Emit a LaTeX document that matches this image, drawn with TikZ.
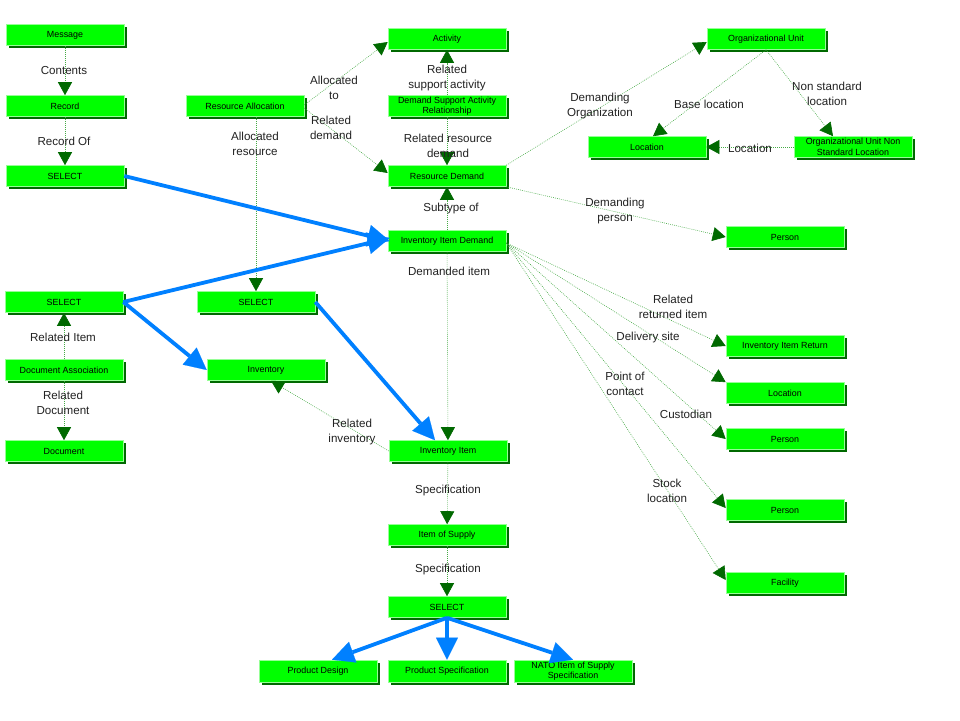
\documentclass[tikz,border=0pt]{standalone}
\usepackage{fontspec}
\setmainfont{Liberation Sans}
\usetikzlibrary{arrows.meta,shadows,calc}
\definecolor{boxgreen}{RGB}{0,255,0}
\definecolor{shadowgreen}{RGB}{0,105,0}
\definecolor{rimgreen}{RGB}{150,255,150}
\definecolor{linegreen}{RGB}{70,170,70}
\definecolor{tipgreen}{RGB}{0,105,0}
\definecolor{flowblue}{RGB}{0,128,255}
\definecolor{lbltext}{RGB}{34,34,34}
\tikzset{
  box/.style={draw=rimgreen, line width=0.6pt, fill=boxgreen, minimum width=118pt, minimum height=21pt,
    inner sep=1pt, align=center, font=\fontsize{8.9}{10.5}\selectfont, text=black,
    drop shadow={shadow xshift=2.5pt, shadow yshift=-2.5pt, fill=shadowgreen, opacity=1}},
  conn/.style={draw=linegreen, line width=0.6pt, dash pattern=on 0.8pt off 1.2pt,
    -{Triangle[length=13pt,width=14pt,color=tipgreen]}},
  flow/.style={draw=flowblue, line width=3.8pt, -{Triangle[length=22pt,width=22pt,line width=0.1pt]}},
  lbl/.style={font=\fontsize{11.6}{14.5}\selectfont, text=lbltext, align=center, inner sep=0pt}
}
\begin{document}
\begin{tikzpicture}[x=1pt,y=-1pt]
\useasboundingbox[fill=white] (0,0) rectangle (960,720);
% boxes
\node[box] (msg) at (65,35) {Message};
\node[box] (rec) at (65,106) {Record};
\node[box] (sel1) at (65,176) {SELECT};
\node[box] (ra) at (245,106) {Resource Allocation};
\node[box] (act) at (447,39) {Activity};
\node[box] (dsar) at (447,106) {Demand Support Activity\\Relationship};
\node[box] (rd) at (447,176) {Resource Demand};
\node[box] (iid) at (447,241) {Inventory Item Demand};
\node[box] (ou) at (766,39) {Organizational Unit};
\node[box] (loc1) at (647,147) {Location};
\node[box] (ounsl) at (853,147) {Organizational Unit Non\\Standard Location};
\node[box] (per1) at (785,237) {Person};
\node[box] (sel2) at (64,302) {SELECT};
\node[box] (sel3) at (256,302) {SELECT};
\node[box] (da) at (64,370) {Document Association};
\node[box] (inv) at (266,370) {Inventory};
\node[box] (doc) at (64,451) {Document};
\node[box] (ii) at (448,451) {Inventory Item};
\node[box] (iir) at (785,346) {Inventory Item Return};
\node[box] (loc2) at (785,393) {Location};
\node[box] (per2) at (785,439) {Person};
\node[box] (per3) at (785,510) {Person};
\node[box] (fac) at (785,583) {Facility};
\node[box] (ios) at (447,535) {Item of Supply};
\node[box] (sel4) at (447,607) {SELECT};
\node[box, minimum height=22pt] (pd) at (318,671) {Product Design};
\node[box, minimum height=22pt] (ps) at (447,671) {Product Specification};
\node[box, minimum height=22pt] (nato) at (573,671) {NATO Item of Supply\\Specification};
% green connectors
\draw[conn] (msg) -- (rec);
\draw[conn] (rec) -- (sel1);
\draw[conn] ([yshift=1pt]ra.east) -- ([yshift=-3pt]act.west);
\draw[conn] ([yshift=-2pt]ra.east) -- ([yshift=3pt]rd.west);
\draw[conn] (ra.south -| sel3.north) -- (sel3.north);
\draw[conn] (dsar) -- (act);
\draw[conn] (dsar) -- (rd);
\draw[conn] (iid) -- (rd);
\draw[conn] (iid) -- (ii);
\draw[conn] (rd.north east) -- ([yshift=-3pt]ou.west);
\draw[conn] (rd.south east) -- (per1.west);
\draw[conn] (ou.south) -- ([xshift=6pt]loc1.north);
\draw[conn] (ou.south) -- ([xshift=-20pt]ounsl.north);
\draw[conn] (ounsl) -- (loc1);
\coordinate (fan) at ([yshift=-2pt]iid.east);
\draw[conn] (fan) -- (iir.west);
\draw[conn] (fan) -- (loc2.north west);
\draw[conn] (fan) -- (per2.west);
\draw[conn] (fan) -- ([yshift=2pt]per3.west);
\draw[conn] (fan) -- ([yshift=3pt]fac.west);
\draw[conn] (da) -- (sel2);
\draw[conn] (da) -- (doc);
\draw[conn] (ii.west) -- ([xshift=5pt]inv.south);
\draw[conn] (ii) -- (ios);
\draw[conn] (ios) -- (sel4);
% blue connectors
\draw[flow] (sel1.east) -- ([xshift=2pt]iid.west);
\draw[flow] (sel2.east) -- ([xshift=2pt,yshift=3pt]iid.west);
\draw[flow] (sel2.east) -- (inv.west);
\draw[flow] (sel3.east) -- ([xshift=-13pt]ii.north);
\draw[flow] (sel4.south) -- ([xshift=14pt]pd.north);
\draw[flow] (sel4.south) -- (ps.north);
\draw[flow] (sel4.south) -- (nato.north);
% labels
\node[lbl] (l1) at (64,71) {Contents};
\node[lbl] (l2) at (64,141) {Record Of};
\node[lbl] (l3) at (334,88) {Allocated\\to};
\node[lbl] (l4) at (331,128) {Related\\demand};
\node[lbl] (l5) at (255,144) {Allocated\\resource};
\node[lbl] (l6) at (447,78) {Related\\support activity};
\node[lbl] (l7) at (448,146) {Related resource\\demand};
\node[lbl] (l8) at (451,208) {Subtype of};
\node[lbl] (l9) at (449,271) {Demanded item};
\node[lbl] (l10) at (600,106) {Demanding\\Organization};
\node[lbl] (l11) at (615,211) {Demanding\\person};
\node[lbl] (l12) at (709,104) {Base location};
\node[lbl] (l13) at (827,94) {Non standard\\location};
\node[lbl] (l14) at (750,148) {Location};
\node[lbl] (l15) at (673,307) {Related\\returned item};
\node[lbl] (l16) at (648,337) {Delivery site};
\node[lbl] (l17) at (625,384) {Point of\\contact};
\node[lbl] (l18) at (686,414) {Custodian};
\node[lbl] (l19) at (667,491) {Stock\\location};
\node[lbl] (l20) at (63,337) {Related Item};
\node[lbl] (l21) at (63,403) {Related\\Document};
\node[lbl] (l22) at (352,432) {Related\\inventory};
\node[lbl] (l23) at (448,490) {Specification};
\node[lbl] (l24) at (448,569) {Specification};
\end{tikzpicture}
\end{document}
